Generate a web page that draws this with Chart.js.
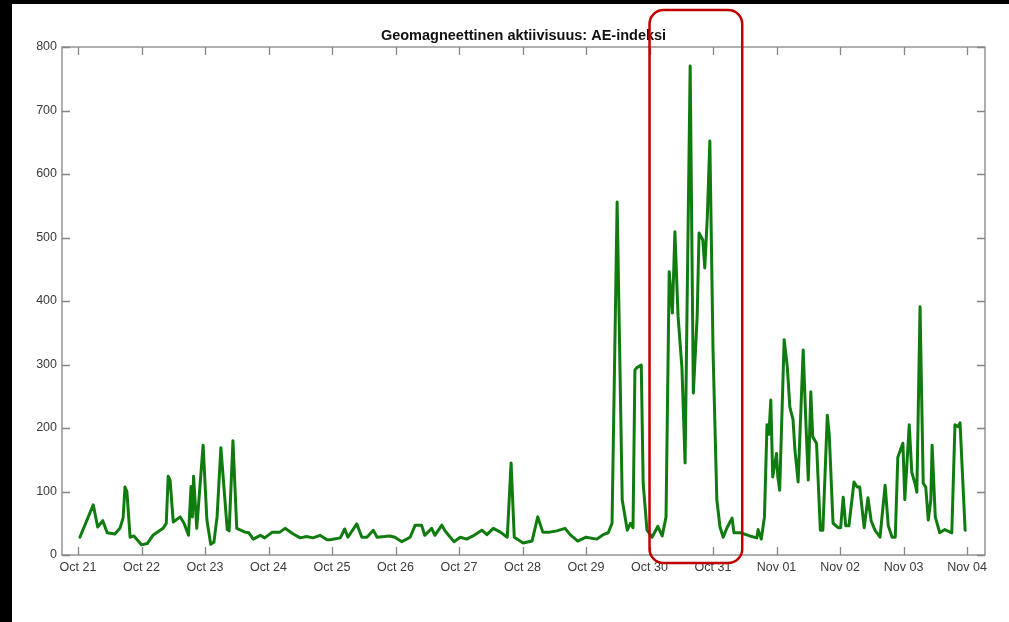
<!DOCTYPE html>
<html>
<head>
<meta charset="utf-8">
<script src="https://cdn.jsdelivr.net/npm/chart.js@4.4.1/dist/chart.umd.min.js"></script>
<style>
  html, body { margin: 0; padding: 0; background: #fff; }
  #frame { width: 997px; height: 618px; border-left: 12px solid #000; border-top: 4px solid #000; background: #fff; }
  canvas { display: block; }
</style>
</head>
<body>
<div id="frame"><canvas id="myChart" width="997" height="618"></canvas></div>
<script>
// AE-indeksi, paivia Oct 21 00:00 alkaen
var tickLabels = ["Oct 21", "Oct 22", "Oct 23", "Oct 24", "Oct 25", "Oct 26", "Oct 27",
                  "Oct 28", "Oct 29", "Oct 30", "Oct 31", "Nov 01", "Nov 02", "Nov 03", "Nov 04"];
var yTicks = [0, 100, 200, 300, 400, 500, 600, 700, 800];

var aeDays = [
  0.03, 0.24, 0.31, 0.39, 0.46, 0.58, 0.66, 0.71, 0.74, 0.77, 0.82, 0.88, 1.0, 1.09, 1.18,
  1.34, 1.39, 1.42, 1.45, 1.5, 1.61, 1.67, 1.74, 1.78, 1.8, 1.82, 1.87, 1.97, 2.03, 2.09,
  2.14, 2.19, 2.25, 2.35, 2.38, 2.44, 2.5, 2.63, 2.69, 2.76, 2.87, 2.94, 3.06, 3.18, 3.26,
  3.39, 3.5, 3.6, 3.7, 3.81, 3.92, 3.97, 4.13, 4.2, 4.25, 4.39, 4.47, 4.55, 4.65, 4.71,
  4.83, 4.91, 4.99, 5.1, 5.23, 5.31, 5.41, 5.46, 5.57, 5.62, 5.73, 5.78, 5.83, 5.92, 6.02,
  6.12, 6.22, 6.36, 6.44, 6.54, 6.65, 6.76, 6.82, 6.87, 7.01, 7.15, 7.24, 7.32, 7.43, 7.54,
  7.67, 7.75, 7.87, 8.0, 8.17, 8.27, 8.35, 8.41, 8.49, 8.57, 8.65, 8.7, 8.74, 8.77, 8.8,
  8.87, 8.9, 8.96, 9.04, 9.13, 9.2, 9.26, 9.31, 9.36, 9.4, 9.43, 9.45, 9.51, 9.56, 9.64,
  9.69, 9.75, 9.78, 9.84, 9.87, 9.91, 9.95, 10.0, 10.06, 10.11, 10.16, 10.22, 10.3, 10.33, 10.43,
  10.58, 10.69, 10.71, 10.76, 10.81, 10.85, 10.88, 10.91, 10.94, 11.0, 11.02, 11.05, 11.12, 11.17, 11.21,
  11.26, 11.29, 11.34, 11.42, 11.46, 11.5, 11.54, 11.57, 11.63, 11.69, 11.73, 11.8, 11.83, 11.89, 11.97,
  12.01, 12.05, 12.09, 12.14, 12.22, 12.27, 12.31, 12.38, 12.44, 12.49, 12.55, 12.63, 12.71, 12.76, 12.82,
  12.87, 12.91, 12.99, 13.02, 13.09, 13.13, 13.18, 13.21, 13.26, 13.31, 13.35, 13.39, 13.43, 13.45, 13.5,
  13.57, 13.65, 13.76, 13.81, 13.86, 13.89, 13.97
];
var aeValues = [
  28, 79, 44, 54, 35, 33, 42, 58, 107, 100, 28, 30, 16, 18, 31,
  42, 50, 124, 118, 52, 60, 50, 31, 108, 60, 124, 42, 173, 55, 17,
  20, 60, 169, 40, 38, 180, 42, 36, 35, 25, 31, 27, 36, 36, 42,
  33, 27, 29, 27, 31, 24, 24, 27, 41, 28, 49, 28, 28, 39, 28,
  29, 30, 28, 21, 28, 47, 47, 31, 42, 31, 47, 38, 32, 21, 28,
  25, 30, 39, 32, 42, 36, 28, 145, 28, 19, 22, 60, 36, 36, 38,
  42, 32, 22, 28, 25, 32, 35, 50, 556, 87, 39, 50, 43, 291, 295,
  299, 113, 39, 28, 45, 30, 60, 446, 381, 509, 428, 375, 296, 145, 770,
  255, 375, 507, 496, 452, 532, 652, 323, 87, 44, 28, 43, 58, 35, 35,
  30, 27, 40, 25, 60, 205, 190, 244, 123, 160, 123, 102, 339, 296, 233,
  213, 165, 115, 323, 215, 118, 257, 186, 176, 39, 39, 220, 190, 50, 43,
  43, 91, 46, 46, 115, 107, 107, 43, 90, 54, 39, 28, 110, 46, 28,
  28, 154, 176, 87, 205, 130, 113, 99, 391, 113, 107, 55, 87, 173, 60,
  35, 40, 35, 205, 202, 208, 39
];

// korostettu aikavali (punainen laatikko)
var highlightFrom = 9.0;
var highlightTo = 10.46;

var points = [];
for (var i = 0; i < aeDays.length; i++) {
    points.push({ x: aeDays[i], y: aeValues[i] });
}

var axisColor = "#858585";
var labelColor = "#3a3a3a";
var fontFamily = "'Liberation Sans', Arial, sans-serif";

// matlab-tyyliset sisaanpain osoittavat tikit ja laatikko
var boxPlugin = {
    id: "boxPlugin",
    afterDraw: function (chart) {
        var ctx = chart.ctx;
        var a = chart.chartArea;
        var xs = chart.scales.x;
        var ys = chart.scales.y;
        ctx.save();
        ctx.strokeStyle = axisColor;
        ctx.lineWidth = 1.3;
        ctx.strokeRect(a.left, a.top, a.right - a.left, a.bottom - a.top);
        ctx.beginPath();
        xs.ticks.forEach(function (t) {
            var px = Math.round(xs.getPixelForValue(t.value)) + 0.5;
            ctx.moveTo(px, a.bottom); ctx.lineTo(px, a.bottom - 8);
            ctx.moveTo(px, a.top); ctx.lineTo(px, a.top + 8);
        });
        ys.ticks.forEach(function (t) {
            var py = Math.round(ys.getPixelForValue(t.value)) + 0.5;
            ctx.moveTo(a.left, py); ctx.lineTo(a.left + 8, py);
            ctx.moveTo(a.right, py); ctx.lineTo(a.right - 8, py);
        });
        ctx.stroke();

        // punainen pyoristetty laatikko
        var l = xs.getPixelForValue(highlightFrom);
        var r = xs.getPixelForValue(highlightTo);
        var top = 6;
        var bot = ys.getPixelForValue(0) + 8;
        ctx.strokeStyle = "#c00000";
        ctx.lineWidth = 2.5;
        ctx.beginPath();
        ctx.roundRect(l, top, r - l, bot - top, 14);
        ctx.stroke();
        ctx.restore();
    }
};

var config = {
    type: "line",
    data: {
        datasets: [{
            data: points,
            borderColor: "#107c10",
            borderWidth: 3,
            borderJoinStyle: "round",
            borderCapStyle: "round",
            pointRadius: 0,
            tension: 0,
            fill: false
        }]
    },
    options: {
        responsive: false,
        animation: false,
        parsing: false,
        layout: {
            padding: { left: 0, right: 24, top: 0, bottom: 0 }
        },
        plugins: {
            legend: { display: false },
            tooltip: { enabled: false },
            title: {
                display: true,
                fullSize: false,
                text: "Geomagneettinen aktiivisuus: AE-indeksi",
                color: "#111",
                font: { family: fontFamily, size: 14.5, weight: "bold" },
                padding: { top: 23.3, bottom: 2.3 }
            }
        },
        scales: {
            x: {
                type: "linear",
                min: -0.252,
                max: 14.283,
                grid: { display: false, drawTicks: false },
                border: { display: false },
                afterBuildTicks: function (scale) {
                    scale.ticks = tickLabels.map(function (_, i) { return { value: i }; });
                },
                afterFit: function (scale) { scale.height = 67; },
                ticks: {
                    autoSkip: false,
                    maxRotation: 0,
                    padding: 5,
                    color: labelColor,
                    font: { family: fontFamily, size: 12.5 },
                    callback: function (value) { return tickLabels[value]; }
                }
            },
            y: {
                min: 0,
                max: 800,
                grid: { display: false, drawTicks: false },
                border: { display: false },
                afterBuildTicks: function (scale) {
                    scale.ticks = yTicks.map(function (v) { return { value: v }; });
                },
                afterFit: function (scale) { scale.width = 50; },
                ticks: {
                    padding: 5,
                    color: labelColor,
                    font: { family: fontFamily, size: 12.5 }
                }
            }
        }
    },
    plugins: [boxPlugin]
};

var ctx = document.getElementById("myChart").getContext("2d");
var myChart = new Chart(ctx, config);
</script>
</body>
</html>
